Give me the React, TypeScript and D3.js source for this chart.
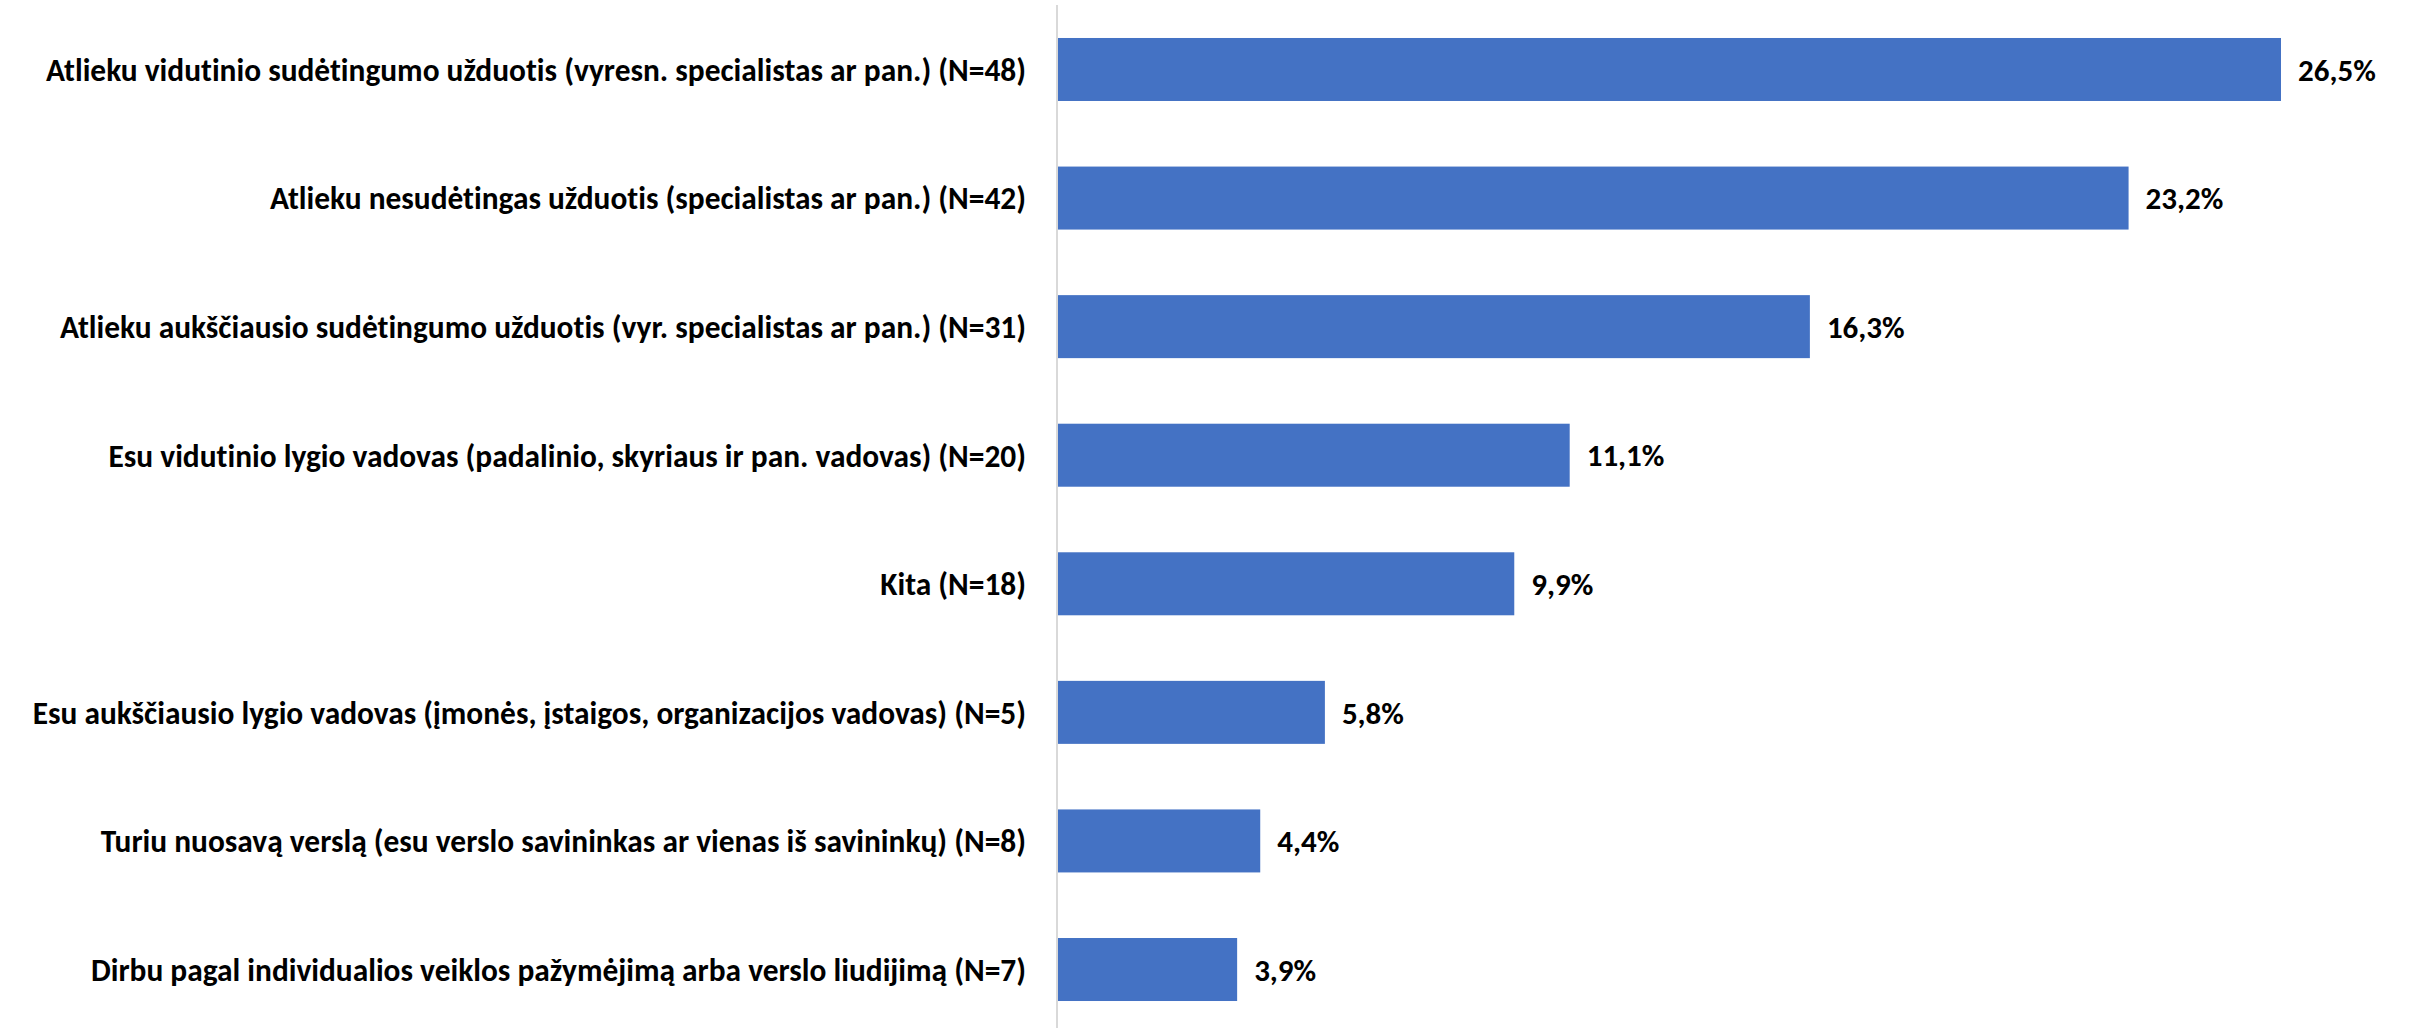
import * as d3 from "d3";

const categories = [
  "Atlieku vidutinio sudėtingumo užduotis (vyresn. specialistas ar pan.) (N=48)",
  "Atlieku nesudėtingas užduotis (specialistas ar pan.) (N=42)",
  "Atlieku aukščiausio sudėtingumo užduotis (vyr. specialistas ar pan.) (N=31)",
  "Esu vidutinio lygio vadovas (padalinio, skyriaus ir pan. vadovas) (N=20)",
  "Kita (N=18)",
  "Esu aukščiausio lygio vadovas (įmonės, įstaigos, organizacijos vadovas) (N=5)",
  "Turiu nuosavą verslą (esu verslo savininkas ar vienas iš savininkų) (N=8)",
  "Dirbu pagal individualios veiklos pažymėjimą arba verslo liudijimą (N=7)",
];
const values = [26.5, 23.2, 16.3, 11.1, 9.9, 5.8, 4.4, 3.9];
const valueLabels = ["26,5%", "23,2%", "16,3%", "11,1%", "9,9%", "5,8%", "4,4%", "3,9%"];

const W = 2409,
  H = 1028;
const font = "Carlito, Calibri, Lato, sans-serif";

export default function App() {
  const x = d3.scaleLinear().domain([0, 26.5]).range([1057, 2281]);
  const y = d3
    .scaleBand<string>()
    .domain(categories)
    .range([5.2, 1033.8])
    .paddingInner(0.51)
    .paddingOuter(0.255);

  return (
    <svg
      width={W}
      height={H}
      style={{ position: "absolute", left: 0, top: 0, background: "#fff" }}
    >
      <line x1={1057} x2={1057} y1={5} y2={H} stroke="#d9d9d9" strokeWidth={2} />
      {categories.map((c, i) => {
        const yc = y(c)! + y.bandwidth() / 2;
        return (
          <g key={c}>
            <rect
              x={x(0) + 1}
              y={y(c)}
              width={x(values[i]) - x(0) - 1}
              height={y.bandwidth()}
              fill="#4472c4"
            />
            <text
              x={1026}
              y={yc}
              dy="0.36em"
              textAnchor="end"
              fontFamily={font}
              fontWeight="bold"
              fontSize={31.4}
              fill="#000"
              style={{ fontVariantLigatures: "none" }}
            >
              {c}
            </text>
            <text
              x={x(values[i]) + 17}
              y={yc}
              dy="0.36em"
              fontFamily={font}
              fontWeight="bold"
              fontSize={31}
              fill="#000"
            >
              {valueLabels[i]}
            </text>
          </g>
        );
      })}
    </svg>
  );
}
